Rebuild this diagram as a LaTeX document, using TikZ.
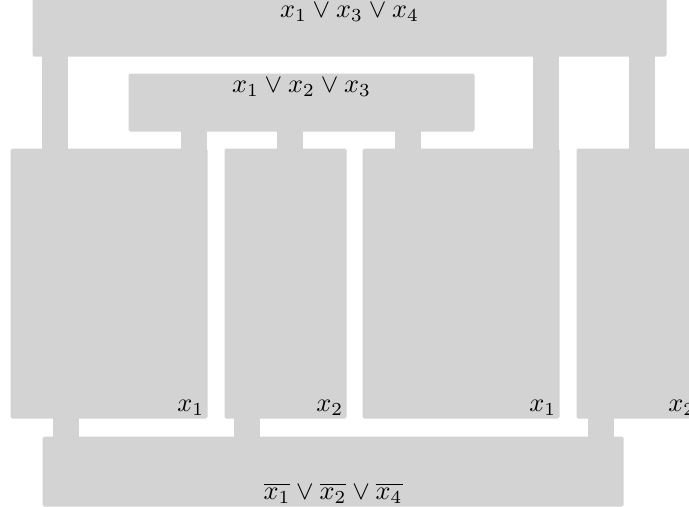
\documentclass[tikz,border=0pt]{standalone}
\usepackage{amsmath,amssymb}
\usetikzlibrary{positioning}
\definecolor{boxgray}{RGB}{211,211,211}
\tikzset{
  clause/.style 2 args={fill=boxgray,rounded corners=0.6pt,inner sep=0pt,
    anchor=north west,minimum width=#1*0.38pt,minimum height=#2*0.38pt},
  wire/.style={draw=boxgray,line width=9.9pt,shorten <=-0.4pt,shorten >=-0.4pt},
  lit/.style={inner sep=1.3pt}
}

\begin{document}
\begin{tikzpicture}[x=0.38pt,y=-0.38pt]
\useasboundingbox (0,0) rectangle (689,507);
% clauses
\node[clause={634}{58}] (top) at (32,-2) {};
\node[clause={346}{58}] (mid) at (128,73) {};
\node[clause={581}{70}] (bot) at (42,436) {};
% variable blocks
\node[clause={197}{270}] (b1) at (10,148) {};
\node[clause={122}{270}] (b2) at (224,148) {};
\node[clause={197}{270}] (b3) at (362,148) {};
\node[clause={122}{270}] (b4) at (576,148) {};
% wires between them
\foreach \xx/\from/\to in {55/top/b1,546/top/b3,642/top/b4,
    194/mid/b1,290/mid/b2,408/mid/b3}
  {\draw[wire] (\xx,0 |- \from.south) -- (\xx,0 |- \to.north);}
\foreach \xx/\from in {66/b1,247/b2,601/b4}
  {\draw[wire] (\xx,0 |- \from.south) -- (\xx,0 |- bot.north);}
% texts
\node[lit,anchor=north,inner sep=1.8pt] (topt) at (top.north) {$x_1\vee x_3\vee x_4$};
\node[lit,anchor=north,inner sep=1.8pt] (midt) at (mid.north) {$x_1\vee x_2\vee x_3$};
\node[lit,anchor=south] (bott) at (bot.south)
  {$\overline{x_1}\vee\overline{x_2}\vee\overline{x_4}$};
\node[lit,anchor=south east] (b1t) at (b1.south east) {$x_1$};
\node[lit,anchor=south east] (b2t) at (b2.south east) {$x_2$};
\node[lit,anchor=south east] (b3t) at (b3.south east) {$x_1$};
\node[lit,anchor=south east] (b4t) at (b4.south east) {$x_2$};
\end{tikzpicture}
\end{document}
